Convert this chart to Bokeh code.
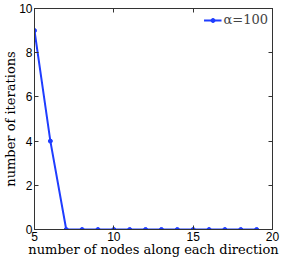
from bokeh.plotting import figure
from bokeh.models import Range1d, LinearAxis, FixedTicker, Legend, LegendItem
from bokeh.embed import file_html
from bokeh.resources import INLINE

nodes = [5, 6, 7, 8, 9, 10, 11, 12, 13, 14, 15, 16, 17, 18, 19]
iterations = [9, 4, 0, 0, 0, 0, 0, 0, 0, 0, 0, 0, 0, 0, 0]
x_ticks = [5, 10, 15, 20]
y_ticks = [0, 2, 4, 6, 8, 10]
series_label = "α=100"

BLUE = "#1f3dff"
AX = "#333333"

p = figure(width=281, height=259, output_backend="svg", toolbar_location=None,
           x_range=Range1d(5, 20), y_range=Range1d(0, 10),
           min_border_left=31, min_border_right=9, min_border_top=8, min_border_bottom=30)
p.grid.grid_line_color = None
p.outline_line_color = AX
p.outline_line_width = 1

for ax in (p.xaxis[0], p.yaxis[0]):
    ax.major_tick_in = 4
    ax.major_tick_out = 0
    ax.minor_tick_line_color = None
    ax.axis_line_color = AX
    ax.major_tick_line_color = AX
    ax.major_label_text_font = "Liberation Sans"
    ax.major_label_text_font_size = "12px"
    ax.major_label_text_color = "black"
    ax.axis_label_text_font = "DejaVu Serif"
    ax.axis_label_text_font_style = "normal"
    ax.axis_label_text_font_size = "13px"
    ax.axis_label_text_color = "black"
    ax.major_label_standoff = 2
    ax.axis_label_standoff = -2

p.xaxis[0].ticker = FixedTicker(ticks=x_ticks)
p.yaxis[0].ticker = FixedTicker(ticks=y_ticks)
p.xaxis[0].axis_label = "number of nodes along each direction"
p.yaxis[0].axis_label = "number of iterations"

top = LinearAxis(ticker=FixedTicker(ticks=x_ticks))
right = LinearAxis(ticker=FixedTicker(ticks=y_ticks))
for ax in (top, right):
    ax.major_tick_in = 4
    ax.major_tick_out = 0
    ax.minor_tick_line_color = None
    ax.axis_line_color = AX
    ax.major_tick_line_color = AX
    ax.major_label_text_font_size = "0px"
    ax.major_label_standoff = 0
    ax.major_label_text_alpha = 0
p.add_layout(top, "above")
p.add_layout(right, "right")

r_line = p.line(nodes, iterations, line_color=BLUE, line_width=2)
r_pts = p.scatter(nodes, iterations, size=4, fill_color=BLUE, line_color=BLUE)

legend = Legend(items=[LegendItem(label=series_label, renderers=[r_line, r_pts])],
                location="top_right", border_line_color=None, background_fill_alpha=0,
                label_text_font="DejaVu Serif", label_text_font_size="13px",
                glyph_width=18, glyph_height=10, padding=2, margin=4, spacing=0,
                label_standoff=2)
p.add_layout(legend)

open("out.html", "w").write(file_html(p, INLINE))
